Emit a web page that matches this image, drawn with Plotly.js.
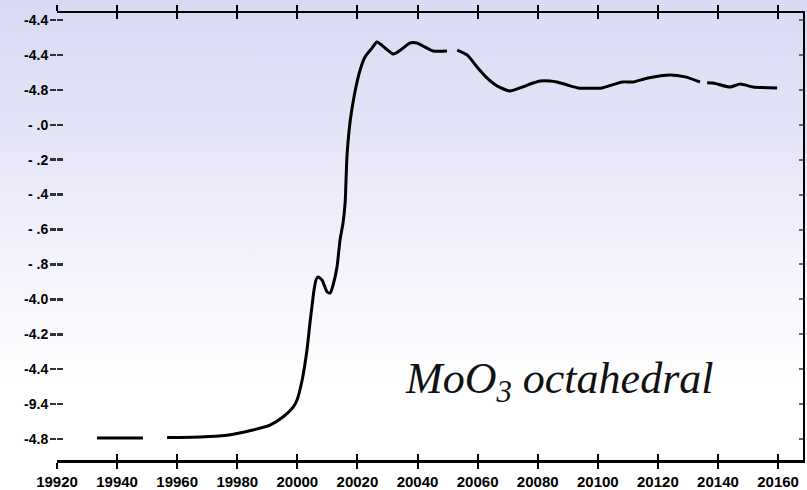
<!DOCTYPE html>
<html><head><meta charset="utf-8">
<script src="https://cdn.plot.ly/plotly-3.0.1.min.js"></script>
<style>
html,body{margin:0;padding:0;}
body{width:807px;height:490px;overflow:hidden;background:linear-gradient(to bottom,#d9d9f4 0%,#e6e6f8 30%,#f4f4fd 55%,#ffffff 78%);}
#chart{width:807px;height:490px;}
</style></head><body><div id="chart"></div>
<script>
const energy = [19933.3, 19948.6, null, 19956.6, 19967.6, 19975.9, 19985.2, 19990.9, 19995.2, 19998.6, 19999.9, 20001.6, 20003.2, 20004.2, 20005.2, 20005.6, 20006.2, 20006.9, 20008.2, 20009.9, 20010.9, 20011.9, 20013.2, 20014.2, 20015.2, 20015.9, 20016.5, 20017.5, 20018.5, 20019.5, 20020.9, 20022.5, 20024.9, 20026.5, 20029.2, 20031.9, 20034.8, 20037.5, 20039.8, 20041.8, 20045.2, 20049.8, null, 20053.2, 20056.5, 20059.8, 20063.1, 20066.5, 20070.8, 20074.1, 20078.5, 20080.8, 20084.1, 20086.4, 20089.8, 20093.4, 20101.4, 20108.1, 20111.7, 20116.7, 20124.1, 20129.1, 20134.0, null, 20136.4, 20138.4, 20144.0, 20147.4, 20151.7, 20159.7];
const absorbance = [-1.794, -1.794, null, -1.791, -1.788, -1.780, -1.748, -1.720, -1.674, -1.617, -1.576, -1.462, -1.290, -1.135, -0.992, -0.941, -0.889, -0.872, -0.889, -0.958, -0.964, -0.918, -0.815, -0.660, -0.563, -0.448, -0.185, 0.010, 0.125, 0.216, 0.314, 0.388, 0.440, 0.474, 0.440, 0.405, 0.434, 0.468, 0.468, 0.451, 0.422, 0.422, null, 0.428, 0.400, 0.331, 0.268, 0.222, 0.193, 0.211, 0.239, 0.251, 0.251, 0.245, 0.228, 0.211, 0.211, 0.245, 0.245, 0.268, 0.285, 0.274, 0.245, null, 0.241, 0.239, 0.216, 0.233, 0.216, 0.211];
const xTickVals = [19920, 19940, 19960, 19980, 20000, 20020, 20040, 20060, 20080, 20100, 20120, 20140, 20160];
const xTickText = ["19920", "19940", "19960", "19980", "20000", "20020", "20040", "20060", "20080", "20100", "20120", "20140", "20160"];
const yTickVals = [0.6, 0.4, 0.2, 0.0, -0.2, -0.4, -0.6, -0.8, -1.0, -1.2, -1.4, -1.6, -1.8];
const yTickText = ["-4.4", "-4.4", "-4.8", "- .0", "- .2", "- .4", "- .6", "- .8", "-4.0", "-4.2", "-4.4", "-9.4", "-4.8"];
const label = "<i>MoO<sub>3</sub> octahedral</i>";

const xRange = [19920, 20168.3];
const yRange = [-1.92, 0.64];

const main = {x: energy, y: absorbance, mode: 'lines', line: {color: '#000', width: 3, shape: 'spline', smoothing: 0.6}, connectgaps: false, hoverinfo: 'skip'};
const ghost2 = {x: energy, y: absorbance, xaxis: 'x2', yaxis: 'y2', mode: 'lines', line: {color: 'rgba(0,0,0,0)', width: 0}, hoverinfo: 'skip'};
const ghost3 = {x: energy, y: absorbance, xaxis: 'x', yaxis: 'y3', mode: 'lines', line: {color: 'rgba(0,0,0,0)', width: 0}, hoverinfo: 'skip'};

const bold = s => '<b>' + s + '</b>';

const layout = {
  width: 807, height: 490,
  margin: {l: 57, r: 4, t: 13, b: 30, pad: 0},
  paper_bgcolor: 'rgba(0,0,0,0)', plot_bgcolor: 'rgba(0,0,0,0)',
  font: {family: 'Liberation Sans', size: 14, color: '#000'},
  showlegend: false,
  xaxis: {range: xRange, tickmode: 'array', tickvals: xTickVals, ticktext: xTickText.map(bold),
    ticks: 'outside', ticklen: 6, tickwidth: 2, tickcolor: '#000',
    showline: true, linewidth: 2.5, linecolor: '#000', mirror: 'ticks',
    showgrid: false, zeroline: false, tickfont: {family: 'Liberation Sans', size: 15, color: '#000'}},
  xaxis2: {range: xRange, overlaying: 'x', tickmode: 'array', tickvals: xTickVals,
    ticks: 'inside', ticklen: 6, tickwidth: 2, tickcolor: '#000', mirror: 'ticks',
    showline: false, showgrid: false, zeroline: false, showticklabels: false},
  yaxis: {range: yRange, tickmode: 'array', tickvals: yTickVals, ticktext: yTickText.map(bold),
    ticks: 'outside', ticklen: 6, tickwidth: 2.5, tickcolor: '#333',
    showline: false, showgrid: false, zeroline: false, ticklabelstandoff: -1,
    tickfont: {family: 'Liberation Sans', size: 14, color: '#000'}},
  yaxis2: {range: yRange, overlaying: 'y', side: 'right', tickmode: 'array', tickvals: yTickVals,
    ticks: 'inside', ticklen: 4, tickwidth: 2, tickcolor: '#666',
    showline: true, linewidth: 2, linecolor: '#000',
    showgrid: false, zeroline: false, showticklabels: false},
  yaxis3: {range: yRange, overlaying: 'y', side: 'left', tickmode: 'array', tickvals: yTickVals,
    ticks: 'inside', ticklen: 6, tickwidth: 2.5, tickcolor: '#333',
    showline: false, showgrid: false, zeroline: false, showticklabels: false},
  annotations: [{text: label, x: 20087, y: -1.47, xref: 'x', yref: 'y', showarrow: false,
    font: {family: 'Liberation Serif', size: 44, color: '#111'}}]
};

Plotly.newPlot('chart', [main, ghost2, ghost3], layout, {displayModeBar: false, staticPlot: true});
</script></body></html>
